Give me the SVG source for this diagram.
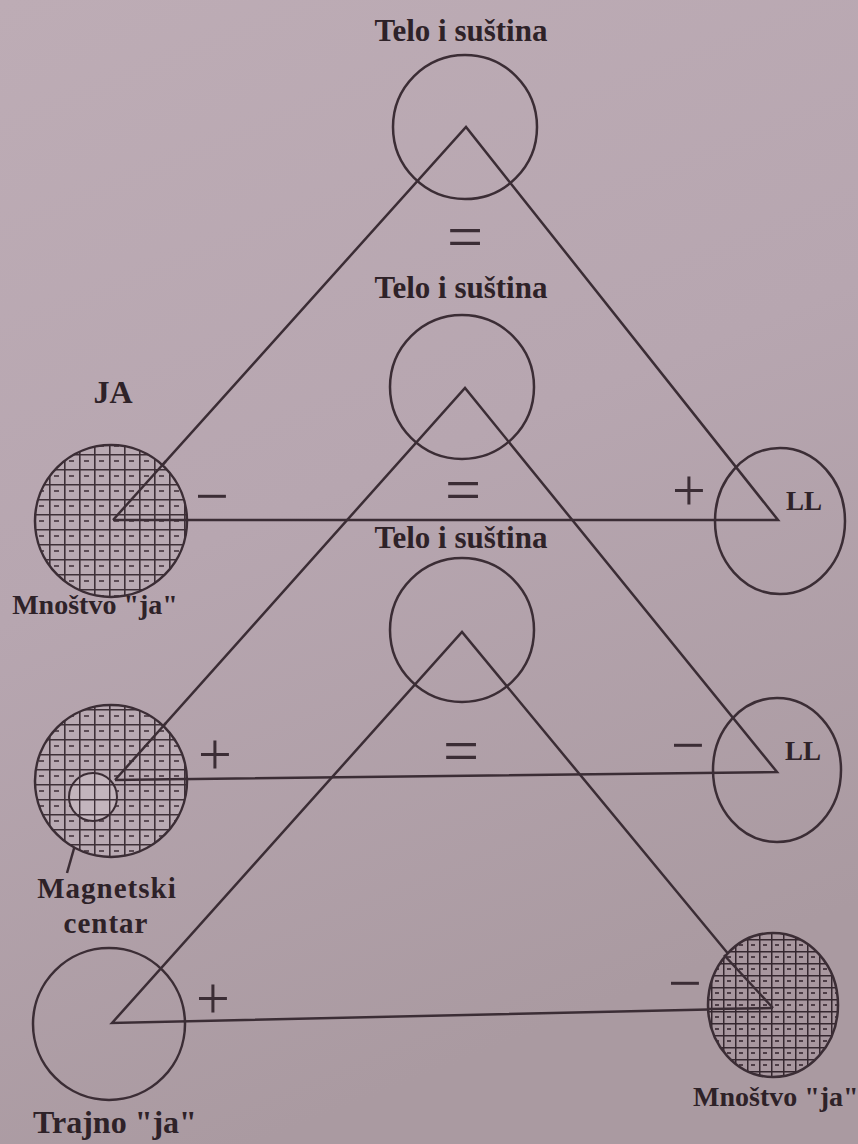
<svg xmlns="http://www.w3.org/2000/svg" width="858" height="1144" viewBox="0 0 858 1144">
<defs>
<linearGradient id="bg" x1="0" y1="0" x2="0.3" y2="1">
<stop offset="0" stop-color="#bdacb5"/>
<stop offset="0.5" stop-color="#b7a6b0"/>
<stop offset="1" stop-color="#aa9aa1"/>
</linearGradient>
<pattern id="hatch" width="15" height="15" patternUnits="userSpaceOnUse" x="4" y="4">
<rect width="15" height="15" fill="#b9aab3"/>
<path d="M0 0.5H15M0.5 0V15" stroke="#3e3038" stroke-width="2.2"/>
<path d="M5 7h5" stroke="#5c4c55" stroke-width="2"/>
</pattern>
<pattern id="hatchS" width="12" height="12" patternUnits="userSpaceOnUse" x="3" y="3">
<rect width="12" height="12" fill="#a8979f"/>
<path d="M0 0.5H12M0.5 0V12" stroke="#35272f" stroke-width="2"/>
<path d="M4 6h4" stroke="#4d3d46" stroke-width="2"/>
</pattern>
<pattern id="grid" width="15" height="15" patternUnits="userSpaceOnUse" x="4" y="4">
<rect width="15" height="15" fill="#c3b5bd"/>
<path d="M0 0.5H15M0.5 0V15" stroke="#3e3038" stroke-width="1.8"/>
</pattern>
</defs>
<style>
.ln{fill:none;stroke:#3b2d35;stroke-width:2.5}
.lbl{font-family:"Liberation Serif","Times New Roman",serif;font-weight:bold;fill:#2e2228}
.sym{font-family:"Liberation Serif","Times New Roman",serif;font-weight:normal;fill:#3b2d35;text-anchor:middle}
</style>
<rect width="858" height="1144" fill="url(#bg)"/>

<g id="connectors">
<polygon class="ln" points="113,520 466,127 778,520"/>
<polygon class="ln" points="115,780 465,388 777,772"/>
<polygon class="ln" points="112,1023 462,632 773,1008"/>
<line class="ln" x1="77" y1="838" x2="67" y2="873" stroke-width="2"/>
</g>

<g id="telo1">
<circle class="ln" cx="465" cy="127" r="72"/>
<text class="lbl" x="461" y="41" font-size="31" text-anchor="middle">Telo i suština</text>
</g>
<g id="telo2">
<circle class="ln" cx="462" cy="387" r="72"/>
<text class="lbl" x="461" y="298" font-size="31" text-anchor="middle">Telo i suština</text>
</g>
<g id="telo3">
<circle class="ln" cx="462" cy="630" r="72"/>
<text class="lbl" x="461" y="548" font-size="31" text-anchor="middle">Telo i suština</text>
</g>

<g id="ja1">
<circle cx="111" cy="521" r="76" fill="url(#hatch)" stroke="#3b2d35" stroke-width="2.5"/>
<line class="ln" x1="113" y1="520" x2="187" y2="520"/>
<line class="ln" x1="113" y1="520" x2="166" y2="461"/>
<text class="lbl" x="113" y="403" font-size="32" text-anchor="middle">JA</text>
<text class="lbl" x="95" y="614" font-size="28" text-anchor="middle">Mnoštvo "ja"</text>
</g>

<g id="ja2">
<circle cx="111" cy="781" r="76" fill="url(#hatch)" stroke="#3b2d35" stroke-width="2.5"/>
<circle cx="93" cy="797" r="24" fill="url(#grid)" stroke="#3b2d35" stroke-width="2"/>
<line class="ln" x1="115" y1="780" x2="187" y2="779"/>
<line class="ln" x1="115" y1="780" x2="166" y2="723"/>
</g>
<g id="magnetski">
<text class="lbl" x="107" y="898" font-size="29" letter-spacing="1" text-anchor="middle">Magnetski</text>
<text class="lbl" x="106" y="933" font-size="29" letter-spacing="1" text-anchor="middle">centar</text>
</g>

<g id="trajno">
<circle class="ln" cx="109" cy="1024" r="76"/>
<text class="lbl" x="33" y="1133" font-size="32">Trajno "ja"</text>
</g>

<g id="ll1">
<ellipse class="ln" cx="780" cy="521" rx="65" ry="73"/>
<text class="lbl" x="804" y="510" font-size="27" text-anchor="middle">LL</text>
</g>
<g id="ll2">
<ellipse class="ln" cx="777" cy="770" rx="64" ry="72"/>
<text class="lbl" x="803" y="760" font-size="27" text-anchor="middle">LL</text>
</g>

<g id="mnostvo3">
<ellipse cx="773" cy="1005" rx="65" ry="72" fill="url(#hatchS)" stroke="#3b2d35" stroke-width="2.5"/>
<line class="ln" x1="708" y1="1009" x2="773" y2="1008"/>
<line class="ln" x1="773" y1="1008" x2="724" y2="955"/>
<text class="lbl" x="693" y="1106" font-size="28">Mnoštvo "ja"</text>
</g>

<g id="signs">
<text class="sym" x="465" y="258" font-size="64">=</text>
<text class="sym" x="463" y="511" font-size="64">=</text>
<text class="sym" x="461" y="772" font-size="64">=</text>
<text class="sym" x="212" y="516" font-size="60">−</text>
<text class="sym" x="689" y="510" font-size="60">+</text>
<text class="sym" x="215" y="774" font-size="60">+</text>
<text class="sym" x="688" y="765" font-size="60">−</text>
<text class="sym" x="213" y="1018" font-size="60">+</text>
<text class="sym" x="685" y="1003" font-size="60">−</text>
</g>
</svg>
